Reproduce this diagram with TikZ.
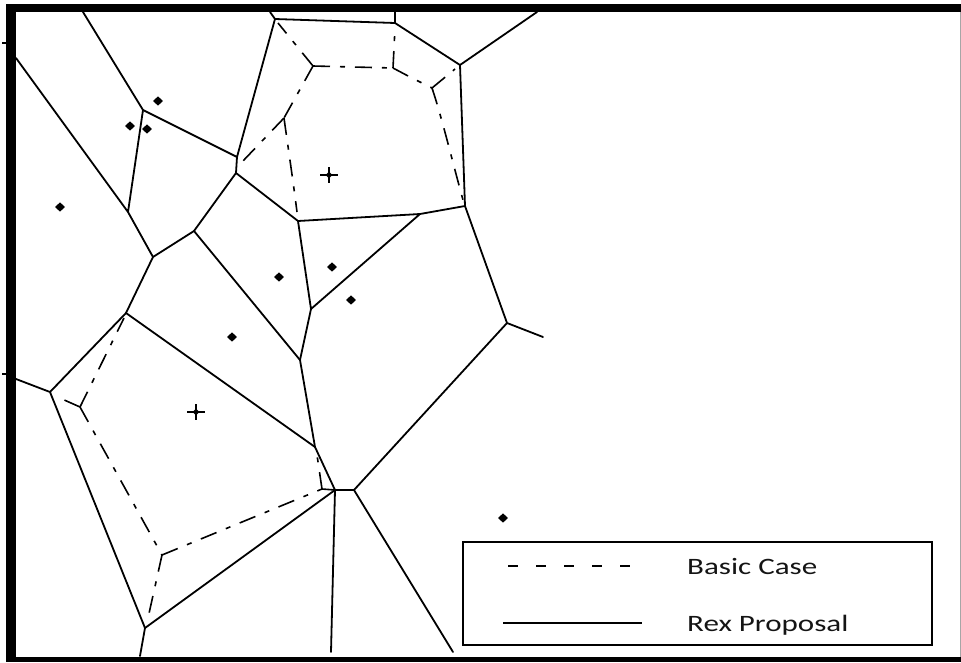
\documentclass[tikz,border=0pt]{standalone}
\usepackage{fontspec}
\setmainfont{Carlito}
\usetikzlibrary{shapes.geometric}
\begin{document}
\begin{tikzpicture}[x=1pt,y=-1pt,
  cell/.style={line width=1.8pt, line cap=round, line join=round},
  basic/.style={line width=1.6pt, dash pattern=on 17pt off 10pt on 5pt off 10pt},
  sitept/.style={diamond, fill=black, inner sep=0pt, minimum width=10pt, minimum height=9.5pt},
  smallpt/.style={diamond, fill=black, inner sep=0pt, minimum width=7pt, minimum height=7pt},
  crossline/.style={line width=2.2pt},
  legendbox/.style={draw, line width=1.8pt, minimum width=469pt, minimum height=103pt, inner sep=0pt},
  legtext/.style={anchor=base west, inner sep=0pt, text=black!92, font=\fontsize{23.5}{28}\selectfont}
]
\useasboundingbox (0,0) rectangle (961,662);
\fill[white] (0,0) rectangle (961,662);
% frame
\fill[black] (6,4) rectangle (961,12);
\fill[black] (6,4) rectangle (16,662);
\fill[black] (6,657) rectangle (961,662);
\draw[black!35, line width=1pt] (960,12) -- (960,657);
\draw[line width=2pt] (2,43) -- (6,43) (2,374) -- (6,374);

% Voronoi vertices (Rex proposal)
\coordinate (tA) at (83,12);
\coordinate (A) at (143,110);
\coordinate (Bv) at (237,157);
\coordinate (C) at (236,173);
\coordinate (D) at (128,212);
\coordinate (lA) at (16,58);
\coordinate (E) at (153,257);
\coordinate (F) at (194,231);
\coordinate (G) at (126,313);
\coordinate (H) at (300,360);
\coordinate (I) at (298,221);
\coordinate (J) at (311,309);
\coordinate (K) at (315,447);
\coordinate (L) at (335,490);
\coordinate (M) at (354,490);
\coordinate (N) at (507,323);
\coordinate (nE) at (543,337);
\coordinate (O) at (465,206);
\coordinate (P) at (145,628);
\coordinate (pB) at (140,656);
\coordinate (Q) at (50,392);
\coordinate (qL) at (16,379);
\coordinate (R) at (395,23);
\coordinate (rT) at (395,12);
\coordinate (S) at (460,65);
\coordinate (sT) at (537,12);
\coordinate (U) at (275,19);
\coordinate (uT) at (270,12);
\coordinate (T) at (420,214);
\coordinate (lB) at (331,652);
\coordinate (mB) at (453,652);

\draw[cell] (tA) -- (A) -- (Bv) (U) -- (Bv) -- (C) -- (F) (C) -- (I);
\draw[cell] (lA) -- (D) -- (E) (A) -- (D) (F) -- (E) -- (G);
\draw[cell] (F) -- (H) (G) -- (K) (G) -- (Q) -- (qL) (Q) -- (P) -- (pB);
\draw[cell] (P) -- (L) -- (lB) (L) -- (M) -- (mB) (M) -- (N) -- (nE) (N) -- (O);
\draw[cell] (O) -- (S) -- (sT) (S) -- (R) -- (rT) (R) -- (U) -- (uT);
\draw[cell] (I) -- (T) -- (O) (T) -- (J) (I) -- (J) -- (H) -- (K) -- (L);

% Basic case (dash-dot)
\coordinate (T1) at (313,66);
\coordinate (T2) at (393,68);
\coordinate (T3) at (432,88);
\coordinate (T4) at (284,118);
\coordinate (J1) at (80,407);
\coordinate (J2) at (162,555);
\coordinate (J3) at (322,489);
\coordinate (eU) at (278,23);
\coordinate (eR) at (395,28);
\coordinate (eS) at (455,69);
\coordinate (eO) at (463,200);
\coordinate (eI) at (297,212);
\coordinate (eB) at (242,162);
\coordinate (eG) at (124,318);
\coordinate (eQ) at (62,399);
\coordinate (eP) at (148,618);
\coordinate (eK) at (317,455);

\draw[basic] (T1) -- (eU);
\draw[basic] (T1) -- (T2);
\draw[basic] (T2) -- (eR);
\draw[basic] (T2) -- (410,77) -- (T3);
\draw[basic] (T3) -- (eS);
\draw[basic] (T3) .. controls (442,118) and (452,160) .. (eO);
\draw[basic] (T1) -- (T4);
\draw[basic] (T4) .. controls (287,140) and (293,180) .. (eI);
\draw[basic] (T4) -- (eB);
\draw[basic] (J1) -- (eG);
\draw[basic] (J1) -- (eQ);
\draw[basic] (J1) -- (J2);
\draw[basic] (J2) -- (eP);
\draw[basic] (J2) -- (J3);
\draw[basic] (J3) -- (eK);
\draw[basic] (J3) -- (L);

% sites
\node[sitept] (s1) at (158,101) {};
\node[sitept] (s2) at (130,126) {};
\node[sitept] (s3) at (147,129) {};
\node[sitept] (s4) at (60,207) {};
\node[sitept] (s5) at (279,277) {};
\node[sitept] (s6) at (332,267) {};
\node[sitept] (s7) at (351,300) {};
\node[sitept] (s8) at (232,337) {};
\node[sitept] (s9) at (503,518) {};
\node[smallpt] (c1) at (329,175) {};
\node[smallpt] (c2) at (196,412) {};
\draw[crossline] (c1) ++(-9,0) -- ++(18,0) (c1) ++(0,-8) -- ++(0,16);
\draw[crossline] (c2) ++(-9,0) -- ++(18,0) (c2) ++(0,-8) -- ++(0,16);

% legend
\node[legendbox] (leg) at (697.5,593.5) {};
\coordinate (d1) at (508,566);
\coordinate (d2) at (637,566);
\coordinate (r1) at (503,623);
\coordinate (r2) at (642,623);
\draw[line width=1.8pt, dash pattern=on 10pt off 18pt] (d1) -- (d2);
\draw[line width=1.8pt] (r1) -- (r2);
\node[legtext] (lb) at (687,574) {\scalebox{1.32}[1]{Basic Case}};
\node[legtext] (lr) at (687,631) {\scalebox{1.32}[1]{Rex Proposal}};
\end{tikzpicture}
\end{document}
